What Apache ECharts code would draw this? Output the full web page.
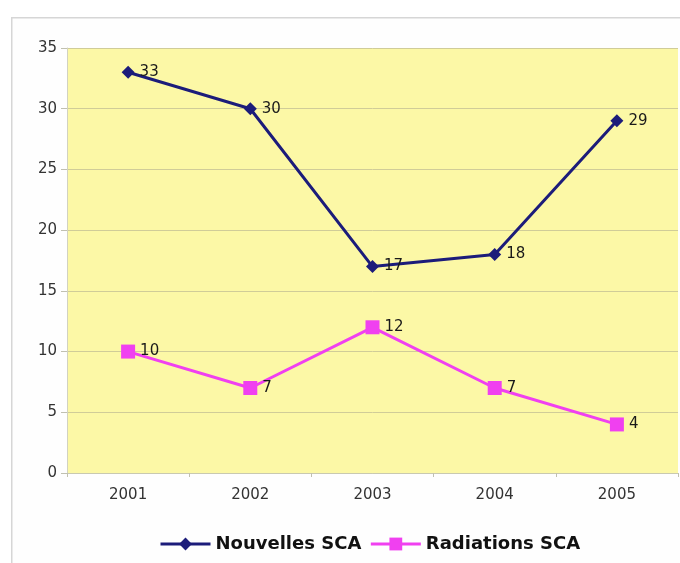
<!DOCTYPE html>
<html>
<head>
<meta charset="utf-8">
<script src="https://cdn.jsdelivr.net/npm/echarts@6/dist/echarts.min.js"></script>
<style>
  html, body { margin: 0; padding: 0; background: #ffffff; }
  #chart { width: 680px; height: 563px; }
</style>
</head>
<body>
<div id="chart"></div>
<script>
const years = ['2001', '2002', '2003', '2004', '2005'];
const nouvelles = [33, 30, 17, 18, 29];
const radiations = [10, 7, 12, 7, 4];
const yTicks = { min: 0, max: 35, interval: 5 };

const chart = echarts.init(document.getElementById('chart'), null, { renderer: 'canvas' });

const valueLabel = {
  show: true,
  position: 'right',
  distance: 5,
  color: '#1a1a1a',
  fontFamily: 'DejaVu Sans',
  fontSize: 15
};

chart.setOption({
  animation: false,
  backgroundColor: '#ffffff',
  graphic: [{
    type: 'rect',
    left: 11, top: 17,
    shape: { width: 720, height: 600 },
    style: { fill: '#fefefe', stroke: '#d6d6d6', lineWidth: 1.5 },
    z: -10
  }],
  grid: {
    left: 67, right: 2, top: 48, bottom: 90,
    show: true,
    backgroundColor: '#fcf8a6',
    borderWidth: 0
  },
  xAxis: {
    type: 'category',
    data: years,
    boundaryGap: true,
    axisLine: { show: true, lineStyle: { color: '#c9c9b0', width: 1 } },
    axisTick: { show: true, alignWithLabel: false, length: 4, lineStyle: { color: '#c0c0b0' } },
    axisLabel: { color: '#333', fontFamily: 'DejaVu Sans', fontSize: 15, margin: 15 }
  },
  yAxis: {
    type: 'value',
    min: yTicks.min, max: yTicks.max, interval: yTicks.interval,
    axisLine: { show: true, lineStyle: { color: '#d2d2c0', width: 1 } },
    axisTick: { show: true, length: 6, lineStyle: { color: '#c0c0b0' } },
    axisLabel: { color: '#333', fontFamily: 'DejaVu Sans', fontSize: 15, margin: 10 },
    splitLine: { show: true, lineStyle: { color: '#d0cc98', width: 1 } }
  },
  legend: {
    bottom: 5,
    left: 154,
    itemWidth: 50,
    itemHeight: 16,
    itemGap: 8,
    lineStyle: { width: 3 },
    textStyle: { color: '#111', fontFamily: 'DejaVu Sans', fontWeight: 900, fontSize: 18 },
    data: ['Nouvelles SCA', 'Radiations SCA']
  },
  series: [
    {
      name: 'Nouvelles SCA',
      type: 'line',
      data: nouvelles,
      symbol: 'diamond',
      symbolSize: 13,
      lineStyle: { color: '#1c1c7a', width: 3 },
      itemStyle: { color: '#1c1c7a' },
      label: valueLabel
    },
    {
      name: 'Radiations SCA',
      type: 'line',
      data: radiations,
      symbol: 'rect',
      symbolSize: 14,
      lineStyle: { color: '#f040f0', width: 3 },
      itemStyle: { color: '#f040f0' },
      label: valueLabel
    }
  ]
});
</script>
</body>
</html>
